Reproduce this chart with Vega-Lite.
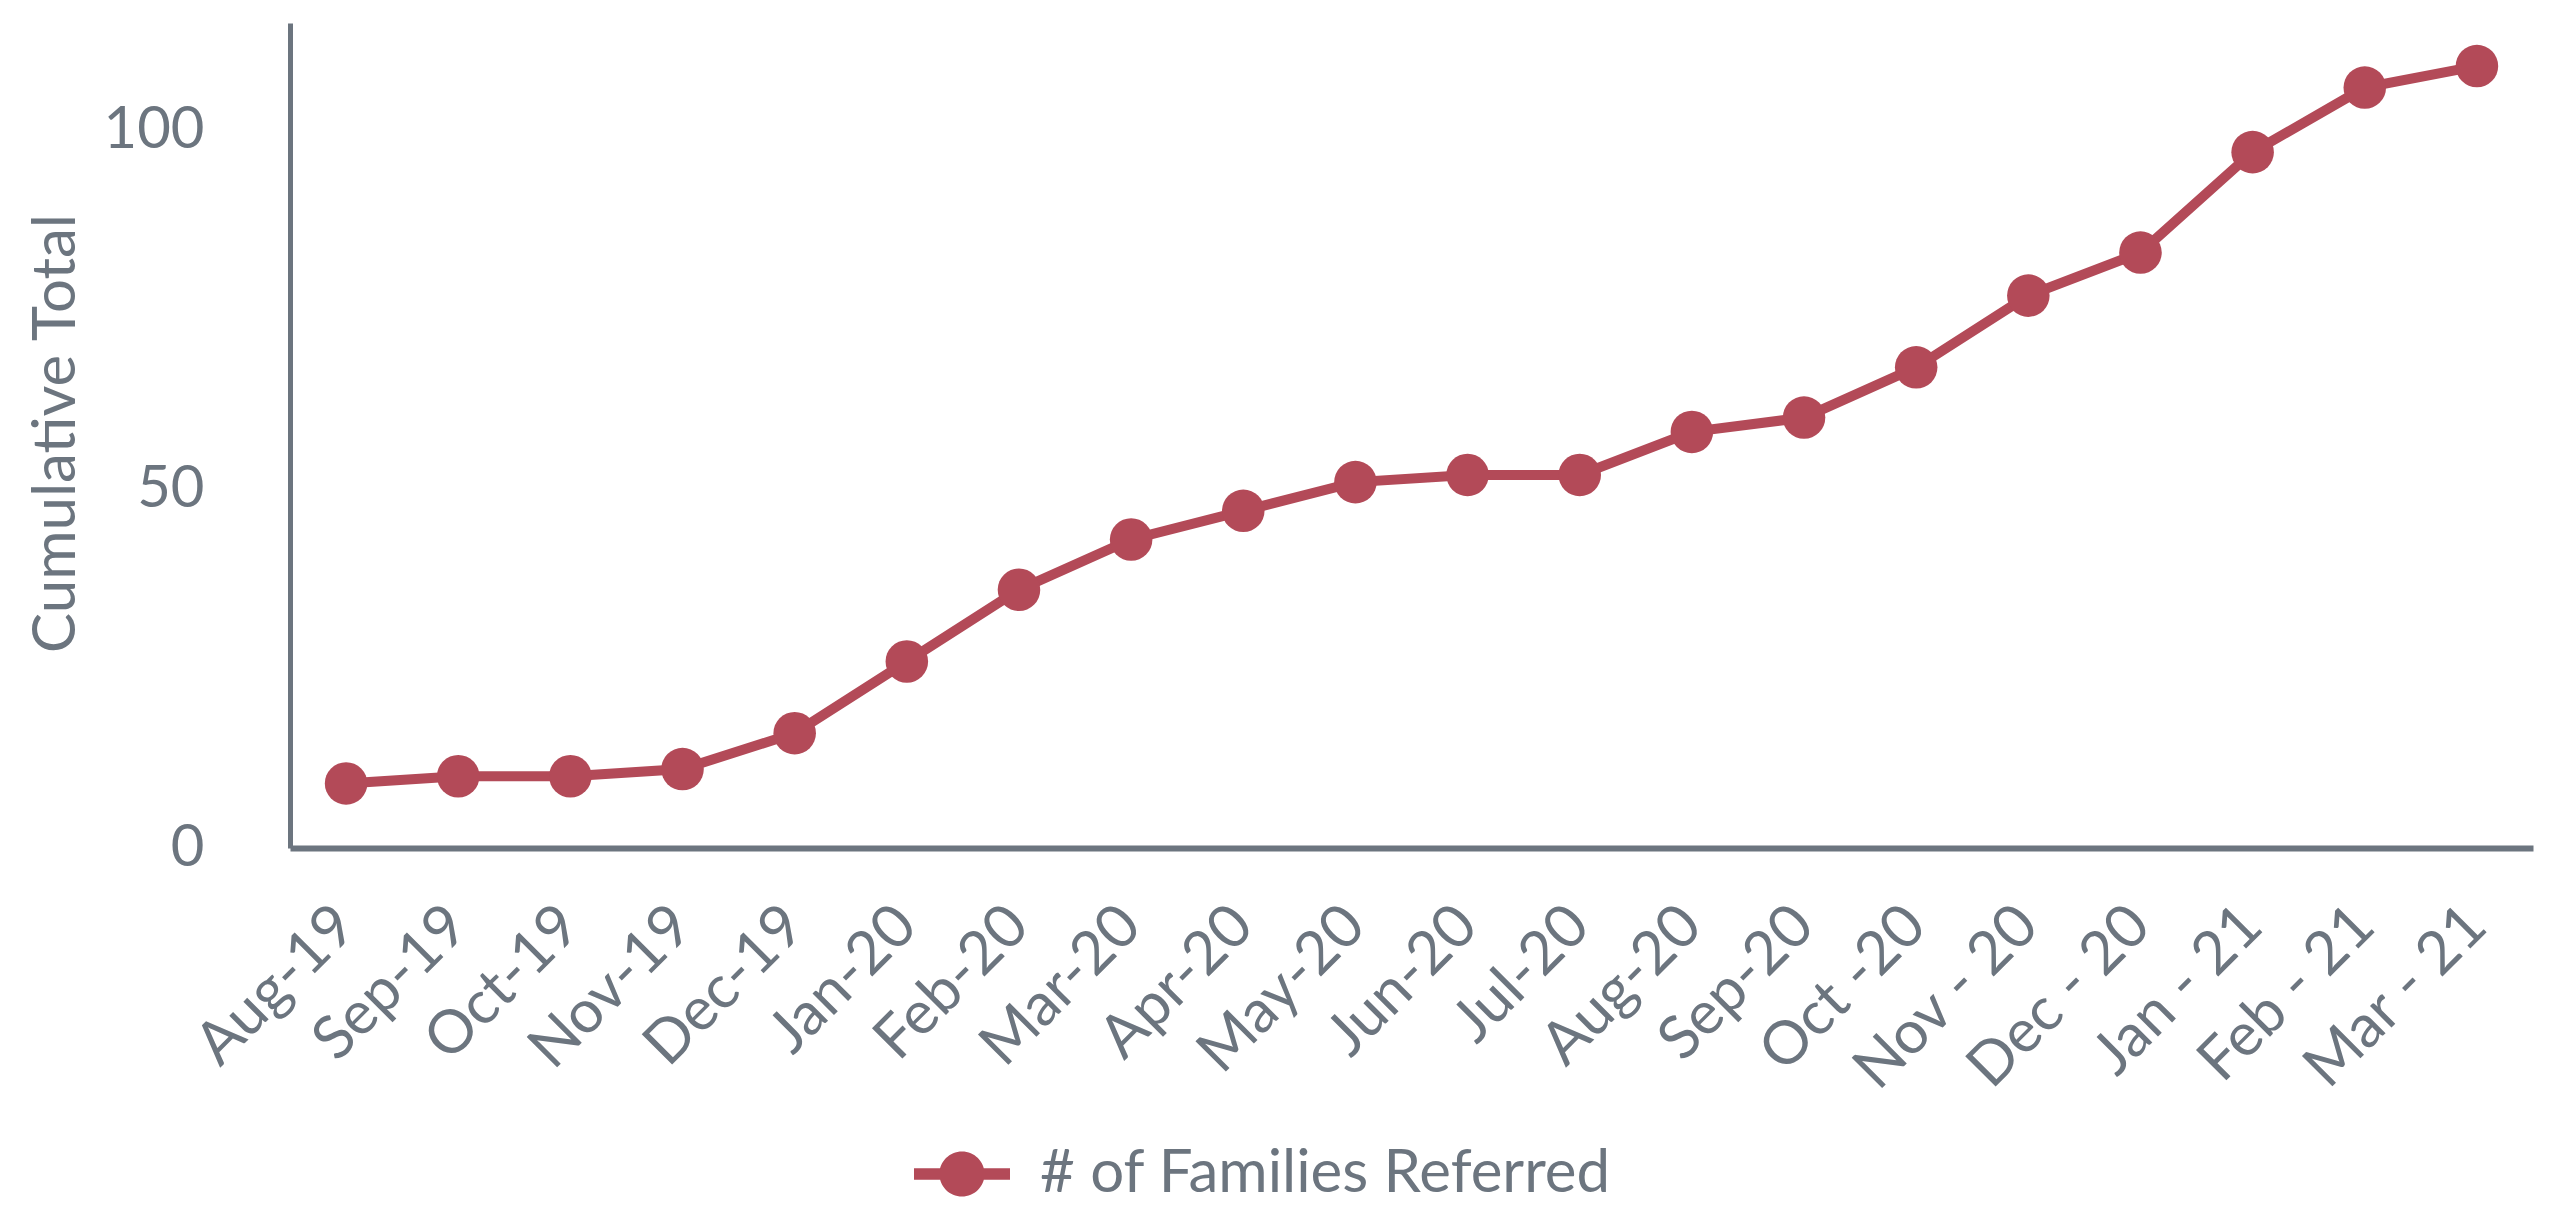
{
  "$schema": "https://vega.github.io/schema/vega-lite/v6.json",
  "autosize": {"type": "none"},
  "width": 2243,
  "height": 825,
  "padding": {"left": 290, "top": 23, "right": 26, "bottom": 365},
  "background": "white",
  "config": {
    "view": {"stroke": null},
    "font": "Lato"
  },
  "data": {
    "values": [
      {"month": "Aug-19", "total": 9, "series": "# of Families Referred"},
      {"month": "Sep-19", "total": 10, "series": "# of Families Referred"},
      {"month": "Oct-19", "total": 10, "series": "# of Families Referred"},
      {"month": "Nov-19", "total": 11, "series": "# of Families Referred"},
      {"month": "Dec-19", "total": 16, "series": "# of Families Referred"},
      {"month": "Jan-20", "total": 26, "series": "# of Families Referred"},
      {"month": "Feb-20", "total": 36, "series": "# of Families Referred"},
      {"month": "Mar-20", "total": 43, "series": "# of Families Referred"},
      {"month": "Apr-20", "total": 47, "series": "# of Families Referred"},
      {"month": "May-20", "total": 51, "series": "# of Families Referred"},
      {"month": "Jun-20", "total": 52, "series": "# of Families Referred"},
      {"month": "Jul-20", "total": 52, "series": "# of Families Referred"},
      {"month": "Aug-20", "total": 58, "series": "# of Families Referred"},
      {"month": "Sep-20", "total": 60, "series": "# of Families Referred"},
      {"month": "Oct -20", "total": 67, "series": "# of Families Referred"},
      {"month": "Nov - 20", "total": 77, "series": "# of Families Referred"},
      {"month": "Dec - 20", "total": 83, "series": "# of Families Referred"},
      {"month": "Jan - 21", "total": 97, "series": "# of Families Referred"},
      {"month": "Feb - 21", "total": 106, "series": "# of Families Referred"},
      {"month": "Mar - 21", "total": 109, "series": "# of Families Referred"}
    ]
  },
  "encoding": {
    "x": {
      "field": "month",
      "type": "nominal",
      "sort": null,
      "scale": {"type": "band", "paddingInner": 0, "paddingOuter": 0},
      "axis": {
        "title": null,
        "labelAngle": -45,
        "labelAlign": "right",
        "labelBaseline": "middle",
        "labelPadding": 68,
        "labelDx": -4,
        "labelFont": "Lato",
        "labelFontSize": 60,
        "labelColor": "#6C757F",
        "labelLimit": 0,
        "ticks": false,
        "grid": false,
        "domainColor": "#6C757F",
        "domainWidth": 6,
        "labelOverlap": false
      }
    },
    "y": {
      "field": "total",
      "type": "quantitative",
      "scale": {"domain": [0, 115], "nice": false},
      "axis": {
        "title": "Cumulative Total",
        "titleFont": "Lato",
        "titleFontSize": 60,
        "titleFontWeight": "normal",
        "titleColor": "#6C757F",
        "titleAngle": -90,
        "titleAlign": "center",
        "titleBaseline": "middle",
        "titleX": -234,
        "titleY": 410,
        "titleLimit": 0,
        "values": [0, 50, 100],
        "labelFont": "Lato",
        "labelFontSize": 58,
        "labelColor": "#6C757F",
        "labelPadding": 86,
        "ticks": false,
        "grid": false,
        "domainColor": "#6C757F",
        "domainWidth": 5
      }
    },
    "color": {
      "field": "series",
      "type": "nominal",
      "scale": {"range": ["#B34A58"]},
      "legend": {
        "title": null,
        "orient": "none",
        "legendX": 642,
        "legendY": 1121,
        "padding": 0,
        "symbolType": "M-2,-0.24L-0.88,-0.24L-0.88,0.24L-2,0.24Z M0.88,-0.24L2,-0.24L2,0.24L0.88,0.24Z M0.94,0A0.94,0.94,0,1,1,-0.94,0A0.94,0.94,0,1,1,0.94,0Z",
        "symbolSize": 2304,
        "symbolFillColor": "#B34A58",
        "symbolStrokeColor": "#B34A58",
        "symbolStrokeWidth": 0,
        "symbolOpacity": 1,
        "labelFont": "Lato",
        "labelFontSize": 60,
        "labelColor": "#6C757F",
        "labelLimit": 0,
        "labelOffset": 48
      }
    }
  },
  "layer": [
    {"mark": {"type": "line", "strokeWidth": 10}},
    {"mark": {"type": "point", "filled": true, "opacity": 1, "size": 1810, "shape": "circle"}}
  ]
}
